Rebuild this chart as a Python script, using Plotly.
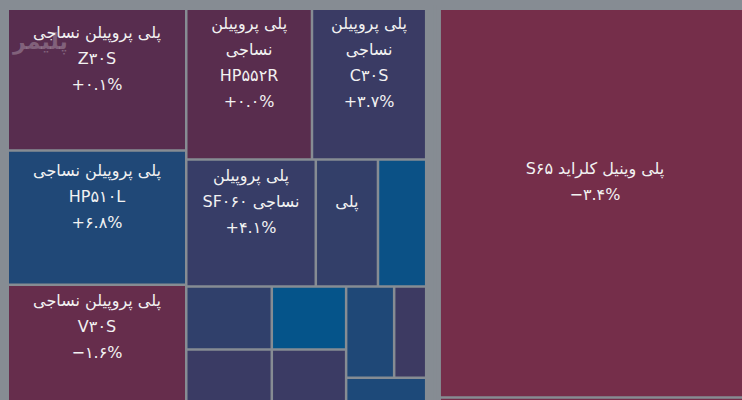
import plotly.graph_objects as go
from plotly.colors import sample_colorscale

# Polypropylene products (left block): traded value and daily change (%)
pp_ids = ["z30s", "hp510l", "v30s", "hp552r", "c30s", "sf060", "poly",
          "pp8", "pp9", "pp10", "pp11", "pp12", "pp13", "pp14", "pp15"]
pp_labels = ["پلی پروپیلن نساجی Z۳۰S", "پلی پروپیلن نساجی HP۵۱۰L",
             "پلی پروپیلن نساجی V۳۰S", "پلی پروپیلن نساجی HP۵۵۲R",
             "پلی پروپیلن نساجی C۳۰S", "پلی پروپیلن نساجی SF۰۶۰", "پلی",
             "کالا ۸", "کالا ۹", "کالا ۱۰", "کالا ۱۱", "کالا ۱۲",
             "کالا ۱۳", "کالا ۱۴", "کالا ۱۵"]
pp_values = [200.9, 189.9, 177.8, 150.3, 136.5, 130.6, 62.7,
             48.6, 42.7, 41.3, 37.1, 35.9, 34.8, 23.2, 20.6]
pp_change = [0.1, 6.8, -1.6, 0.0, 3.7, 4.1, 4.5,
             9.3, 4.9, 3.7, 10.0, 3.6, 6.9, 3.3, 7.1]

# PVC products (right block)
pvc_ids = ["s65", "pvc2"]
pvc_labels = ["پلی وینیل کلراید S۶۵", "پلی وینیل کلراید"]
pvc_values = [968.4, 31.6]
pvc_change = [-3.4, -3.4]

LRM = "\u200e"


def pct(v):
    sign = "+" if v >= 0 else "\u2212"
    digits = f"{abs(v):.1f}".translate(str.maketrans("0123456789", "۰۱۲۳۴۵۶۷۸۹"))
    return f"{LRM}{sign}{digits}%"


# Tile captions (line breaks as shown on each tile)
pp_caption = {
    "z30s": ["پلی پروپیلن نساجی", LRM + "Z۳۰S"],
    "hp510l": ["پلی پروپیلن نساجی", LRM + "HP۵۱۰L"],
    "v30s": ["پلی پروپیلن نساجی", LRM + "V۳۰S"],
    "hp552r": ["پلی پروپیلن", "نساجی", LRM + "HP۵۵۲R"],
    "c30s": ["پلی پروپیلن", "نساجی", LRM + "C۳۰S"],
    "sf060": ["پلی پروپیلن", LRM + "SF۰۶۰ نساجی"],
}
pvc_caption = {"s65": [LRM + "S۶۵ پلی وینیل کلراید"]}

GLYPH = 16      # glyph size of the captions
LINE_FONT = 20  # sets the 1.3em line pitch of the captions


def caption(lines):
    body = "<br>".join(f'<span style="font-size:{GLYPH}px">{ln}</span>' for ln in lines)
    # a clear mark under the caption lifts it above the tile centre
    return body + '<br><br><span style="color:rgba(0,0,0,0)"><sup>.</sup></span>'


GREY = "#868c93"
TEXT = "#f2f2f2"
CLEAR = "rgba(0,0,0,0)"
CHANGE_SCALE = [[0.0, "rgb(171,47,66)"], [0.5, "rgb(89,45,78)"], [1.0, "rgb(5,84,138)"]]


def change_color(c):
    t = min(max((c + 10.0) / 20.0, 0.0), 1.0)
    return sample_colorscale(CHANGE_SCALE, [t])[0]


ids = ["root", "pp", "pvc"]
labels = ["بازار", "پلی پروپیلن", "پلی وینیل کلراید"]
parents = ["", "root", "root"]
values = [0, 0, 0]
colors = [GREY, GREY, GREY]
texts = ["", "", ""]
text_colors = [CLEAR, CLEAR, CLEAR]

for i, v, c, lab in zip(pp_ids, pp_values, pp_change, pp_labels):
    ids.append(i)
    labels.append(lab)
    parents.append("pp")
    values.append(v)
    colors.append(change_color(c))
    text_colors.append(TEXT)
    if i in pp_caption:
        texts.append(caption(pp_caption[i] + [pct(c)]))
    elif i == "poly":
        texts.append(caption(["پلی"]))
    else:
        texts.append("")

for i, v, c, lab in zip(pvc_ids, pvc_values, pvc_change, pvc_labels):
    ids.append(i)
    labels.append(lab)
    parents.append("pvc")
    values.append(v)
    colors.append(change_color(c))
    text_colors.append(TEXT)
    texts.append(caption(pvc_caption[i] + [pct(c)]) if i in pvc_caption else "")

fig = go.Figure(go.Treemap(
    ids=ids,
    labels=labels,
    parents=parents,
    values=values,
    text=texts,
    texttemplate="%{text}",
    textposition="middle center",
    textfont=dict(family="DejaVu Sans", size=LINE_FONT, color=text_colors),
    marker=dict(colors=colors, line=dict(width=0), depthfade=False,
                pad=dict(t=5, l=4.5, r=9, b=5)),
    tiling=dict(packing="squarify", squarifyratio=1.6180339887, pad=2.5),
    pathbar=dict(visible=False),
    sort=True,
    hoverinfo="skip",
))

fig.update_layout(
    width=767,
    height=419,
    margin=dict(l=0, r=0, t=0, b=0),
    paper_bgcolor=GREY,
    hovermode=False,
    uniformtext=dict(mode="show", minsize=LINE_FONT),
    annotations=[dict(
        text="<b>پلیمر</b>", x=40 / 767, y=1 - 42 / 419, xref="paper", yref="paper",
        xanchor="center", yanchor="middle", showarrow=False,
        font=dict(family="DejaVu Sans", size=22, color="rgba(255,255,255,0.26)"),
    )],
)

# show the top-left 742x400 window of the map
view = ("var gd=document.getElementById('{plot_id}');"
        "document.body.style.margin='0';"
        "document.documentElement.style.overflow='hidden';"
        "document.body.style.overflow='hidden';"
        "var w=gd.parentElement;w.style.width='742px';w.style.height='400px';"
        "w.style.overflow='hidden';")

fig.write_html("out.html", post_script=view)
